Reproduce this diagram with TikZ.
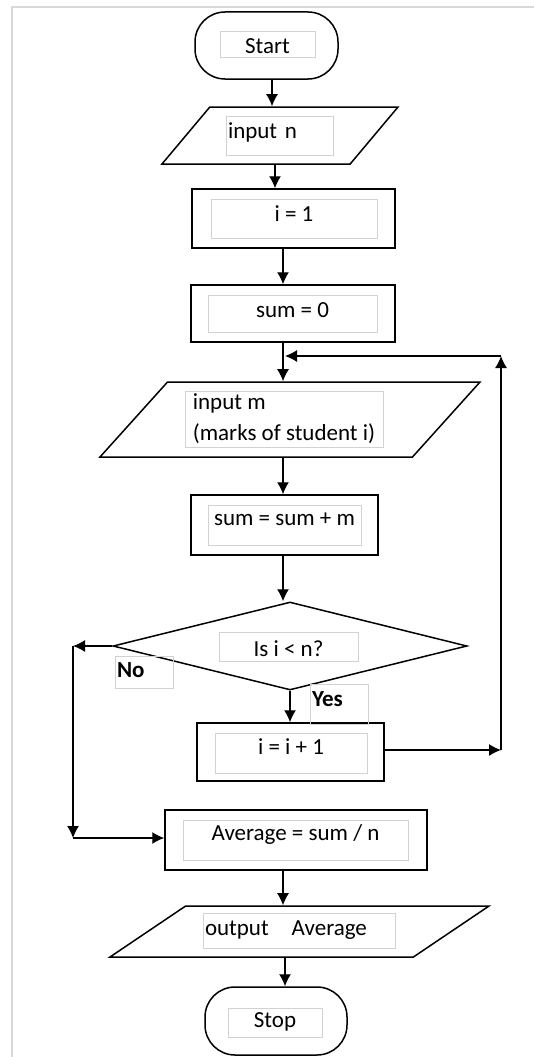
\documentclass[tikz,border=0pt]{standalone}
\usepackage{fontspec}
\setmainfont{Carlito}
\usetikzlibrary{shapes.geometric,arrows.meta}

\begin{document}
\begin{tikzpicture}[x=1pt,y=-1pt,>={Latex[length=12pt,width=12pt]},
        font=\fontsize{23}{31}\selectfont,
        outer/.style={draw=black,line width=1.5pt,inner sep=0pt},
        proc/.style={outer,rectangle},
        term/.style={outer,rectangle,rounded corners=30pt},
        io/.style={outer,trapezium,trapezium left angle=#1,trapezium right angle=180-#1,trapezium stretches body,text depth=0pt},
        cond/.style={outer,diamond},
        txt/.style={draw=gray!35,line width=0.9pt,rectangle,inner xsep=2pt,inner ysep=0pt},
        lbl/.style={txt,font=\fontsize{23}{31}\selectfont\bfseries},
        flow/.style={->,line width=1.3pt}]
    \useasboundingbox (0,0) rectangle (534,1057);
    \draw[gray!30,line width=2pt] (12,1057) -- (12,7) -- (534,7);

    \node[term,minimum width=143pt,minimum height=67pt] (start) at (266.5,45.5) {};
    \node[io=50,minimum width=236pt,text height=57pt] (inpn) at (280,135.5) {};
    \node[proc,minimum width=203pt,minimum height=59pt] (one) at (293.5,218.5) {};
    \node[proc,minimum width=204pt,minimum height=57pt] (sumz) at (293,313.5) {};
    \node[io=48,minimum width=380pt,text height=75pt] (inpm) at (290,419.5) {};
    \node[proc,minimum width=187pt,minimum height=60pt] (add) at (284.5,525) {};
    \node[cond,minimum width=354pt,minimum height=88pt] (dec) at (290,646) {};
    \node[proc,minimum width=187pt,minimum height=58pt] (inc) at (290.5,752) {};
    \node[proc,minimum width=262pt,minimum height=60pt] (avg) at (296,840) {};
    \node[io=34,minimum width=379pt,text height=51pt] (outp) at (299.5,931.5) {};
    \node[term,minimum width=142pt,minimum height=68pt] (stop) at (276,1021) {};

    \node[txt,minimum width=95pt,text height=22pt,text depth=4pt] (startT) at (267.5,44) {Start};
    \node[txt,text width=103pt,align=left,text height=22pt,text depth=17pt] (inpnT) at (279.5,135.5) {input n};
    \node[txt,minimum width=166pt,text height=22pt,text depth=17pt] (oneT) at (294,218.5) {i = 1};
    \node[txt,minimum width=169pt,text height=22pt,text depth=15pt] (sumzT) at (292.5,313.5) {sum = 0};
    \node[txt,minimum width=198pt,minimum height=56pt,align=left] (inpmT) at (284,419) {input m\\(marks of student i)};
    \node[txt,minimum width=153pt,text height=20pt,text depth=20pt] (addT) at (284.5,525) {sum = sum + m};
    \node[txt,minimum width=139pt,text height=24pt,text depth=5pt] (decT) at (288.5,646.5) {Is i < n?};
    \node[lbl,text width=54pt,align=left,text height=21pt,text depth=11pt] (noT) at (144,672) {No};
    \node[lbl,text width=54pt,align=left,text height=22pt,text depth=18pt] (yesT) at (339,704) {Yes};
    \node[txt,minimum width=152pt,text height=21pt,text depth=19pt] (incT) at (291,753) {i = i + 1};
    \node[txt,minimum width=225pt,text height=20pt,text depth=20pt] (avgT) at (295.5,840) {Average = sum / n};
    \node[txt,text width=188pt,align=left,text height=22pt,text depth=13pt] (outpT) at (299,930.5) {output\ \ \ Average};
    \node[txt,minimum width=94pt,text height=19pt,text depth=10pt] (stopT) at (275,1022.5) {Stop};

    \coordinate (c1) at (272,0);
    \coordinate (c2) at (275,0);
    \coordinate (c3) at (283,0);
    \coordinate (c4) at (290,0);
    \coordinate (c5) at (285,0);
    \coordinate (loopR) at (501,750);
    \coordinate (loopT) at (501,356);
    \coordinate (loopIn) at (285,356);
    \coordinate (noL) at (73,645);
    \coordinate (noB) at (73,838);

    \draw[flow] (start.south -| c1) -- (inpn.north -| c1);
    \draw[flow] (inpn.south -| c2) -- (one.north -| c2);
    \draw[flow] (one.south -| c3) -- (sumz.north -| c3);
    \draw[flow] (sumz.south -| c3) -- (inpm.north -| c3);
    \draw[flow] (inpm.south -| c3) -- (add.north -| c3);
    \draw[flow] (add.south -| c3) -- (dec.north -| c3);
    \draw[flow] (dec.south -| c4) -- (inc.north -| c4);
    \draw[flow] (avg.south -| c3) -- (outp.north -| c3);
    \draw[flow] (outp.south -| c5) -- (stop.north -| c5);

    \draw[flow] (inc.east |- loopR) -- (loopR);
    \draw[flow] (loopR) -- (loopT);
    \draw[flow] (loopT) -- (loopIn);
    \draw[flow] (dec.west) -- (dec.west -| noL);
    \draw[flow] (dec.west -| noL) -- (noB);
    \draw[flow] (noB) -- (noB -| avg.west);
\end{tikzpicture}
\end{document}
